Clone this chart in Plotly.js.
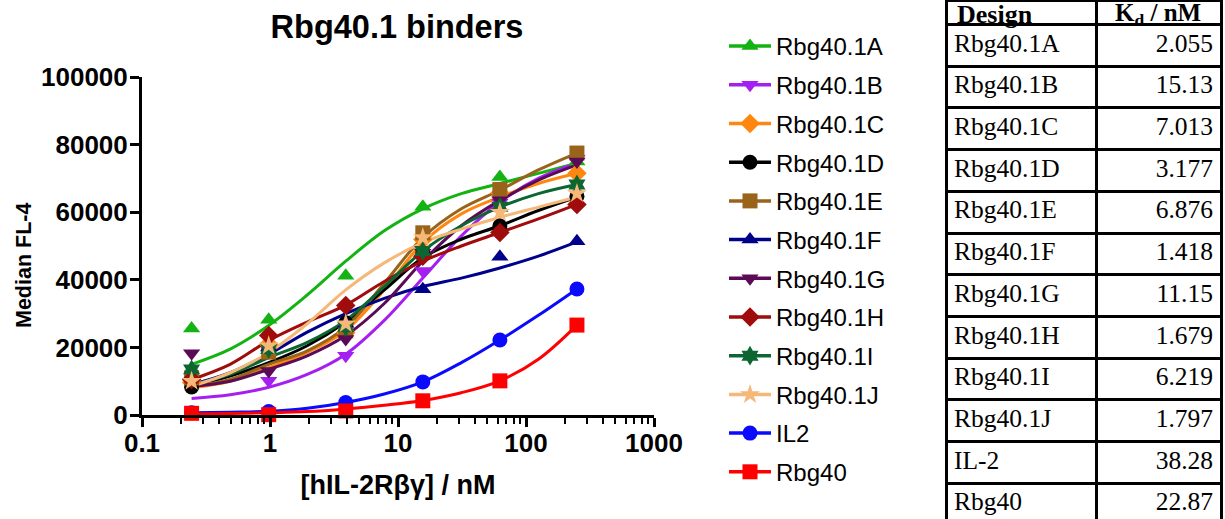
<!DOCTYPE html>
<html><head><meta charset="utf-8">
<script src="https://cdn.plot.ly/plotly-3.0.1.min.js"></script>
<style>html,body{margin:0;padding:0;background:#fff;overflow:hidden}#chart{width:1225px;height:519px}</style>
</head><body><div id="chart"></div>
<script>
// ---- data ----
const seriesNames = ['Rbg40.1A','Rbg40.1B','Rbg40.1C','Rbg40.1D','Rbg40.1E','Rbg40.1F','Rbg40.1G','Rbg40.1H','Rbg40.1I','Rbg40.1J','IL2','Rbg40'];
const concData = [0.244, 0.977, 3.906, 15.625, 62.5, 250];          // nM, measured points
const concFit  = [0.244, 0.488, 0.977, 1.953, 3.906, 7.813, 15.625, 31.25, 62.5, 125, 250]; // nM, fitted-curve samples

const pointsA = [25600, 28200, 41200, 61600, 70400, 75000];
const pointsB = [8600, 10100, 17500, 42600, 62800, 75800];
const pointsC = [9600, 20900, 24400, 51900, 65700, 71500];
const pointsD = [8300, 19500, 27300, 47800, 55900, 64700];
const pointsE = [11000, 18600, 24900, 53900, 66700, 77500];
const pointsF = [11500, 20000, 27000, 37200, 46800, 51400];
const pointsG = [18300, 13000, 22500, 48000, 63500, 75000];
const pointsH = [10500, 23500, 32400, 47000, 54000, 62300];
const pointsI = [13500, 19500, 26000, 48500, 61600, 68200];
const pointsJ = [10000, 20500, 27000, 52500, 60000, 65500];
const pointsIL2 = [700, 1000, 3700, 9800, 22200, 37300];
const pointsRbg40 = [500, 100, 1200, 4200, 10100, 26600];

const fitA = [15000, 19500, 26500, 35500, 45500, 54500, 61000, 65500, 68500, 71500, 74500];
const fitB = [4900, 6000, 8200, 12000, 18000, 28000, 40500, 53000, 63000, 70000, 74500];
const fitC = [8000, 10000, 14000, 18500, 25000, 37000, 51000, 59500, 64500, 68500, 71500];
const fitD = [8500, 11500, 15500, 20500, 27500, 37000, 46500, 52000, 56000, 60500, 64500];
const fitE = [8500, 10500, 15000, 19000, 26000, 39000, 52500, 61000, 66500, 72500, 77500];
const fitF = [9000, 12500, 18000, 24500, 30000, 34500, 38000, 40500, 43500, 47000, 51200];
const fitG = [8500, 10000, 13500, 17500, 23500, 33000, 45500, 56000, 63500, 69500, 74000];
const fitH = [10500, 15000, 22000, 27500, 32500, 39500, 45500, 50000, 54000, 58000, 62300];
const fitI = [9000, 12000, 17000, 21500, 28000, 38000, 48500, 56000, 61500, 65500, 68200];
const fitJ = [8500, 12500, 18500, 27000, 37000, 45000, 51000, 55000, 58500, 61500, 64500];
const fitIL2 = [700, 850, 1100, 2000, 3700, 6200, 9800, 15500, 22200, 29500, 37300];
const fitRbg40 = [300, 450, 650, 1000, 1800, 2900, 4300, 6600, 10100, 16500, 26600];

const tableHeader = ['<b>Design</b>', '<b>K<sub>d</sub> / nM</b>'];
const tableDesigns = ['Rbg40.1A','Rbg40.1B','Rbg40.1C','Rbg40.1D','Rbg40.1E','Rbg40.1F','Rbg40.1G','Rbg40.1H','Rbg40.1I','Rbg40.1J','IL-2','Rbg40'];
const tableKd = ['2.055','15.13','7.013','3.177','6.876','1.418','11.15','1.679','6.219','1.797','38.28','22.87'];

// ---- styles ----
const colors = ['#12b312','#a41ff0','#ff870f','#000000','#996319','#00008b','#5b0a55','#a00b0b','#0d6632','#f5b878','#0a0aff','#ff0000'];
const symbols = ['triangle-up','triangle-down','diamond','circle','square','triangle-up','triangle-down','diamond','hexagram','star','circle','square'];
const allPoints = [pointsA,pointsB,pointsC,pointsD,pointsE,pointsF,pointsG,pointsH,pointsI,pointsJ,pointsIL2,pointsRbg40];
const allFits = [fitA,fitB,fitC,fitD,fitE,fitF,fitG,fitH,fitI,fitJ,fitIL2,fitRbg40];

const W = 1225, H = 519;
const sans = '"Liberation Sans", Arial, sans-serif';
const serif = '"Liberation Serif", "Times New Roman", serif';

const traces = [];
seriesNames.forEach((n,i)=>{
  traces.push({type:'scatter', x:[null], y:[null], name:n, legendgroup:'g'+i, mode:'lines+markers',
    line:{color:colors[i], width:3.5}, marker:{color:colors[i], symbol:symbols[i], size:15}, hoverinfo:'skip'});
});
seriesNames.forEach((n,i)=>{
  traces.push({type:'scatter', x:concFit, y:allFits[i], name:n, legendgroup:'g'+i, showlegend:false, mode:'lines',
    line:{color:colors[i], width:3, shape:'spline', smoothing:1}, cliponaxis:false});
});
seriesNames.forEach((n,i)=>{
  traces.push({type:'scatter', x:concData, y:allPoints[i], name:n, legendgroup:'g'+i, showlegend:false, mode:'markers',
    marker:{color:colors[i], symbol:symbols[i], size:15, line:{width:0}}, cliponaxis:false});
});
traces.push({type:'table', domain:{x:[946/W, 1222/W], y:[0,1]}, columnwidth:[151,125],
  header:{values:['\u00a0','\u00a0'], height:24.5, line:{color:'#000', width:3}, fill:{color:'#fff'},
    font:{family:serif, size:10, color:'#000'}},
  cells:{values:[tableDesigns, tableKd], height:41.7, align:['left','right'],
    line:{color:'#000', width:3}, fill:{color:'#fff'},
    font:{family:serif, size:25.5, color:'#000'}}
});

const tickFont = {family:sans, size:26, color:'#000', weight:'bold'};
const layout = {
  width:W, height:H, margin:{l:0,r:0,t:0,b:0}, paper_bgcolor:'#fff', plot_bgcolor:'#fff',
  showlegend:true,
  title:{text:'<b>Rbg40.1 binders</b>', x:397/W, xanchor:'center', xref:'paper', y:1-27/H, yanchor:'middle', yref:'container',
    font:{family:sans, size:32.5, color:'#000'}},
  xaxis:{type:'log', range:[-1,3], domain:[142/W, 654/W], dtick:1, exponentformat:'none',
    showline:true, linewidth:3, linecolor:'#000', showgrid:false, zeroline:false,
    ticks:'outside', ticklen:9, tickwidth:3, tickcolor:'#000', tickfont:tickFont, ticklabelstandoff:-6,
    minor:{ticks:'outside', ticklen:6, tickwidth:2, tickcolor:'#000', dtick:'D1', showgrid:false},
    title:{text:'<b>[hIL-2Rβγ] / nM</b>', standoff:18, font:{family:sans, size:27, color:'#000'}}},
  yaxis:{range:[0,100000], domain:[104/H, 442/H], dtick:20000, tickformat:'d',
    showline:true, linewidth:3, linecolor:'#000', showgrid:false, zeroline:false,
    ticks:'outside', ticklen:9, tickwidth:3, tickcolor:'#000', tickfont:tickFont, ticklabelstandoff:-3},
  annotations:[
    {text:'<b>Median FL-4</b>', textangle:-90, xref:'paper', yref:'paper', x:24/W, y:1-266/H,
      xanchor:'center', yanchor:'middle', showarrow:false, font:{family:sans, size:21.5, color:'#000'}},
    {text:tableHeader[0], xref:'paper', yref:'paper', x:955/W, y:1-14/H, xanchor:'left', yanchor:'middle',
      showarrow:false, font:{family:serif, size:26, color:'#000'}},
    {text:tableHeader[1], xref:'paper', yref:'paper', x:1158/W, y:1-14/H, xanchor:'center', yanchor:'middle',
      showarrow:false, font:{family:serif, size:25, color:'#000'}}
  ],
  legend:{x:724/W, xanchor:'left', y:1-24/H, yanchor:'top', traceorder:'grouped', tracegroupgap:4.5,
    itemwidth:42, font:{family:sans, size:24, color:'#000'}, bgcolor:'rgba(0,0,0,0)'}
};
Plotly.newPlot('chart', traces, layout, {displayModeBar:false, staticPlot:true});
</script></body></html>
